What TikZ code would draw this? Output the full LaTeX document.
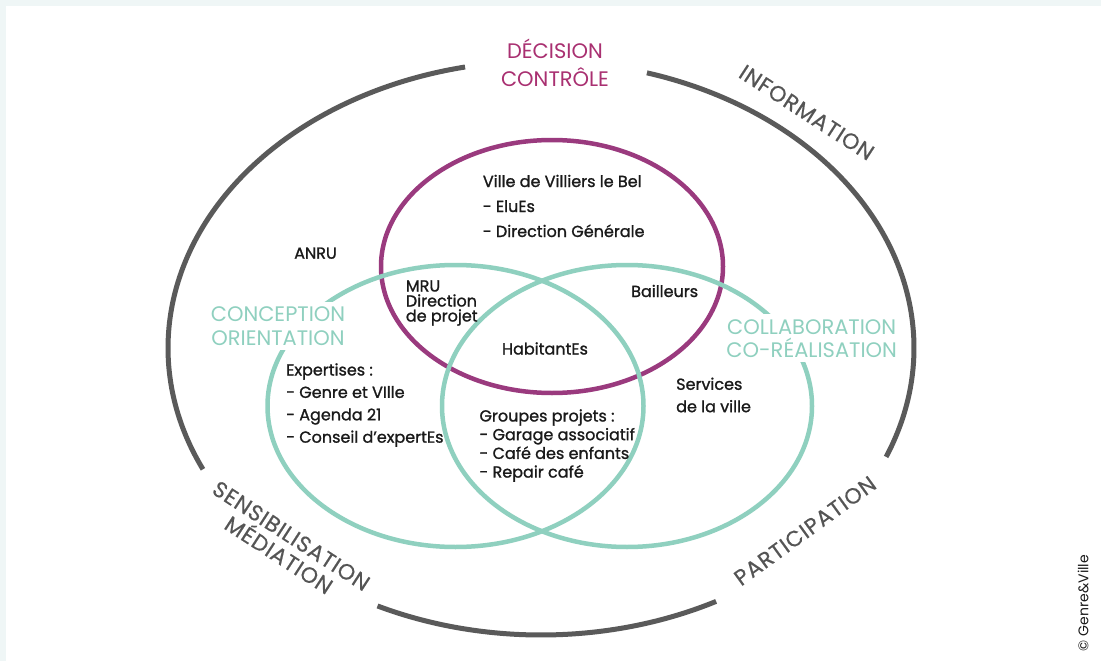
\documentclass[tikz,border=0pt]{standalone}
\usepackage{fontspec}
\setmainfont{Poppins}
\newfontfamily\spacedfont[LetterSpace=4,FakeBold=0.4]{Poppins}
\newfontfamily\medfont[FakeBold=1.2]{Poppins}
\definecolor{bgstrip}{HTML}{EFF6F6}
\definecolor{teal}{HTML}{8FD0BF}
\definecolor{purp}{HTML}{9A3A7E}
\definecolor{magtxt}{HTML}{A93071}
\definecolor{ringgray}{HTML}{5A5A5A}
\definecolor{labgray}{HTML}{555555}
\definecolor{txt}{HTML}{1A1A1A}
\begin{document}
\begin{tikzpicture}[x=1pt,y=-1pt,
  ring/.style={draw=ringgray, line width=5pt},
  tealring/.style={draw=teal, line width=4.5pt},
  purpring/.style={draw=purp, line width=4.5pt},
  lbl/.style={text=txt, inner sep=0pt, align=left, anchor=base west},
  biglbl/.style={inner sep=0pt, align=center, anchor=base},
  graylbl/.style={text=labgray, inner sep=0pt, align=center, anchor=center,
    font=\spacedfont\fontsize{22}{23}\selectfont}]
\useasboundingbox (0,0) rectangle (1101,661);
\fill[bgstrip] (0,0) rectangle (1101,661);
\fill[white] (6,6) rectangle (1101,661);

% outer ring
\draw[ring] plot[domain=101.75:205, samples=80, smooth] ({541+373*cos(\x)},{348-287*sin(\x)});
\draw[ring] plot[domain=244:298, samples=50, smooth] ({541+373*cos(\x)},{348-287*sin(\x)});
\draw[ring] plot[domain=-22.3:73.5, samples=80, smooth] ({541+373*cos(\x)},{348-287*sin(\x)});

% purple and teal ellipses
\draw[purpring] (552,266.5) ellipse [x radius=171pt, y radius=126.5pt];
\draw[tealring] (455.5,406) ellipse [x radius=188pt, y radius=141pt];
\draw[tealring] (627,406) ellipse [x radius=185pt, y radius=141pt];

% outer labels
\node[biglbl, text=magtxt, font=\fontsize{21}{27.7}\selectfont] (decision) at (555,86) {DÉCISION\\CONTRÔLE};
\node[graylbl, rotate=-33] (information) at (806.7,112.5) {INFORMATION};
\node[graylbl, rotate=-33] (sensib) at (285,545.5) {SENSIBILISATION\\MÉDIATION};
\node[graylbl, rotate=36] (participation) at (805,530.8) {PARTICIPATION};

% teal labels (break the circles)
\node[biglbl, text=teal, fill=white, inner sep=5pt, font=\fontsize{21}{23.3}\selectfont] (conception) at (278,345) {CONCEPTION\\ORIENTATION};
\node[biglbl, text=teal, fill=white, inner sep=5pt, font=\fontsize{21}{23}\selectfont] (collab) at (811.7,357.3) {COLLABORATION\\CO-RÉALISATION};

% inner texts
\node[lbl, font=\medfont\fontsize{16}{25}\selectfont] (ville) at (482.7,237) {Ville de Villiers le Bel\\- EluEs\\- Direction Générale};
\node[lbl, anchor=base, font=\medfont\fontsize{16}{20}\selectfont] (anru) at (315.5,258.7) {ANRU};
\node[lbl, font=\medfont\fontsize{16}{15}\selectfont] (mru) at (405.7,321.5) {MRU\\Direction\\de projet};
\node[lbl, font=\medfont\fontsize{16}{20}\selectfont] (bailleurs) at (631,297) {Bailleurs};
\node[lbl, anchor=base, font=\medfont\fontsize{16}{20}\selectfont] (habitants) at (545,354.5) {HabitantEs};
\node[lbl, font=\medfont\fontsize{16}{22.4}\selectfont] (expertises) at (286,442.7) {Expertises :\\- Genre et VIlle\\- Agenda 21\\- Conseil d’expertEs};
\node[lbl, font=\medfont\fontsize{16}{18.7}\selectfont] (groupes) at (479.3,477.6) {Groupes projets :\\- Garage associatif\\- Café des enfants\\- Repair café};
\node[lbl, font=\medfont\fontsize{16}{22.4}\selectfont] (services) at (676,412.2) {Services\\de la ville};

% copyright
\node[text=txt, inner sep=0pt, rotate=90, font=\fontsize{14}{16}\selectfont] (copyright) at (1083,603) {© Genre\&Ville};
\end{tikzpicture}
\end{document}
